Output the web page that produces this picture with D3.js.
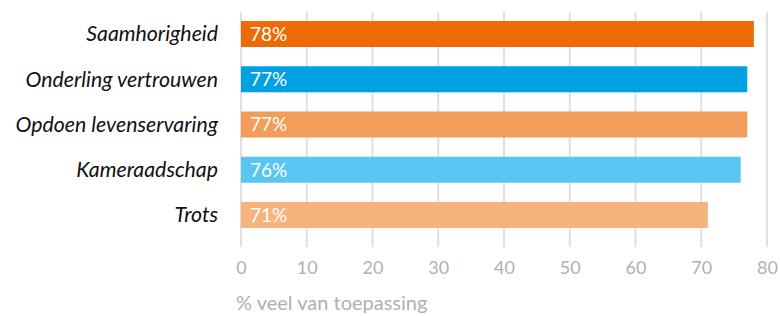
<!DOCTYPE html>
<meta charset="utf-8">
<script src="https://d3js.org/d3.v7.min.js"></script>
<style>
body { margin: 0; background: #fff; }
.cat { font-family: Lato, sans-serif; font-style: italic; font-size: 21.3px; fill: #111; }
.val { font-family: Lato, sans-serif; font-size: 19px; fill: #fff; }
.tick text { font-family: Lato, sans-serif; font-size: 18px; fill: #b0b0b0; }
.xtitle { font-family: Lato, sans-serif; font-size: 20px; fill: #b0b0b0; }
</style>
<body></body>
<script>
var categories = ["Saamhorigheid", "Onderling vertrouwen", "Opdoen levenservaring", "Kameraadschap", "Trots"];
var values = [78, 77, 77, 76, 71];
var colors = ["#ec6b05", "#00a1e3", "#f39d5b", "#5bc5f2", "#f7b37c"];
var ticks = [0, 10, 20, 30, 40, 50, 60, 70, 80];
var axisTitle = "% veel van toepassing";

var width = 780, height = 316;

var svg = d3.select("body").append("svg")
  .attr("width", width)
  .attr("height", height);

var x = d3.scaleLinear().domain([0, 80]).range([241, 767]);
var y = d3.scaleBand().domain(categories).range([11.4, 237.6]).paddingInner(0.425).paddingOuter(0.2127);

// gridlines
svg.selectAll(".grid")
  .data(ticks).enter().append("line")
  .attr("x1", function(d) { return x(d); })
  .attr("x2", function(d) { return x(d); })
  .attr("y1", 12)
  .attr("y2", 247)
  .attr("stroke", "#e0e0e0")
  .attr("stroke-width", 2);

// tick labels
var axis = d3.axisBottom(x).tickValues(ticks).tickSize(0).tickPadding(0);
var ax = svg.append("g").attr("transform", "translate(0,274)").call(axis);
ax.select(".domain").remove();
ax.selectAll(".tick text").attr("dy", 0).attr("y", 0);

svg.append("text")
  .attr("class", "xtitle")
  .attr("x", 236)
  .attr("y", 310)
  .text(axisTitle);

var bars = svg.selectAll(".bar")
  .data(categories).enter().append("g")
  .attr("class", "bar");

bars.append("rect")
  .attr("x", x(0))
  .attr("y", function(d) { return y(d); })
  .attr("width", function(d, i) { return x(values[i]) - x(0); })
  .attr("height", y.bandwidth())
  .attr("fill", function(d, i) { return colors[i]; });

bars.append("text")
  .attr("class", "val")
  .attr("x", x(0) + 9)
  .attr("y", function(d) { return y(d) + y.bandwidth() / 2; })
  .attr("dy", "0.36em")
  .text(function(d, i) { return values[i] + "%"; });

bars.append("text")
  .attr("class", "cat")
  .attr("x", 218)
  .attr("y", function(d) { return y(d) + y.bandwidth() / 2; })
  .attr("dy", "0.35em")
  .attr("text-anchor", "end")
  .text(function(d) { return d; });
</script>
